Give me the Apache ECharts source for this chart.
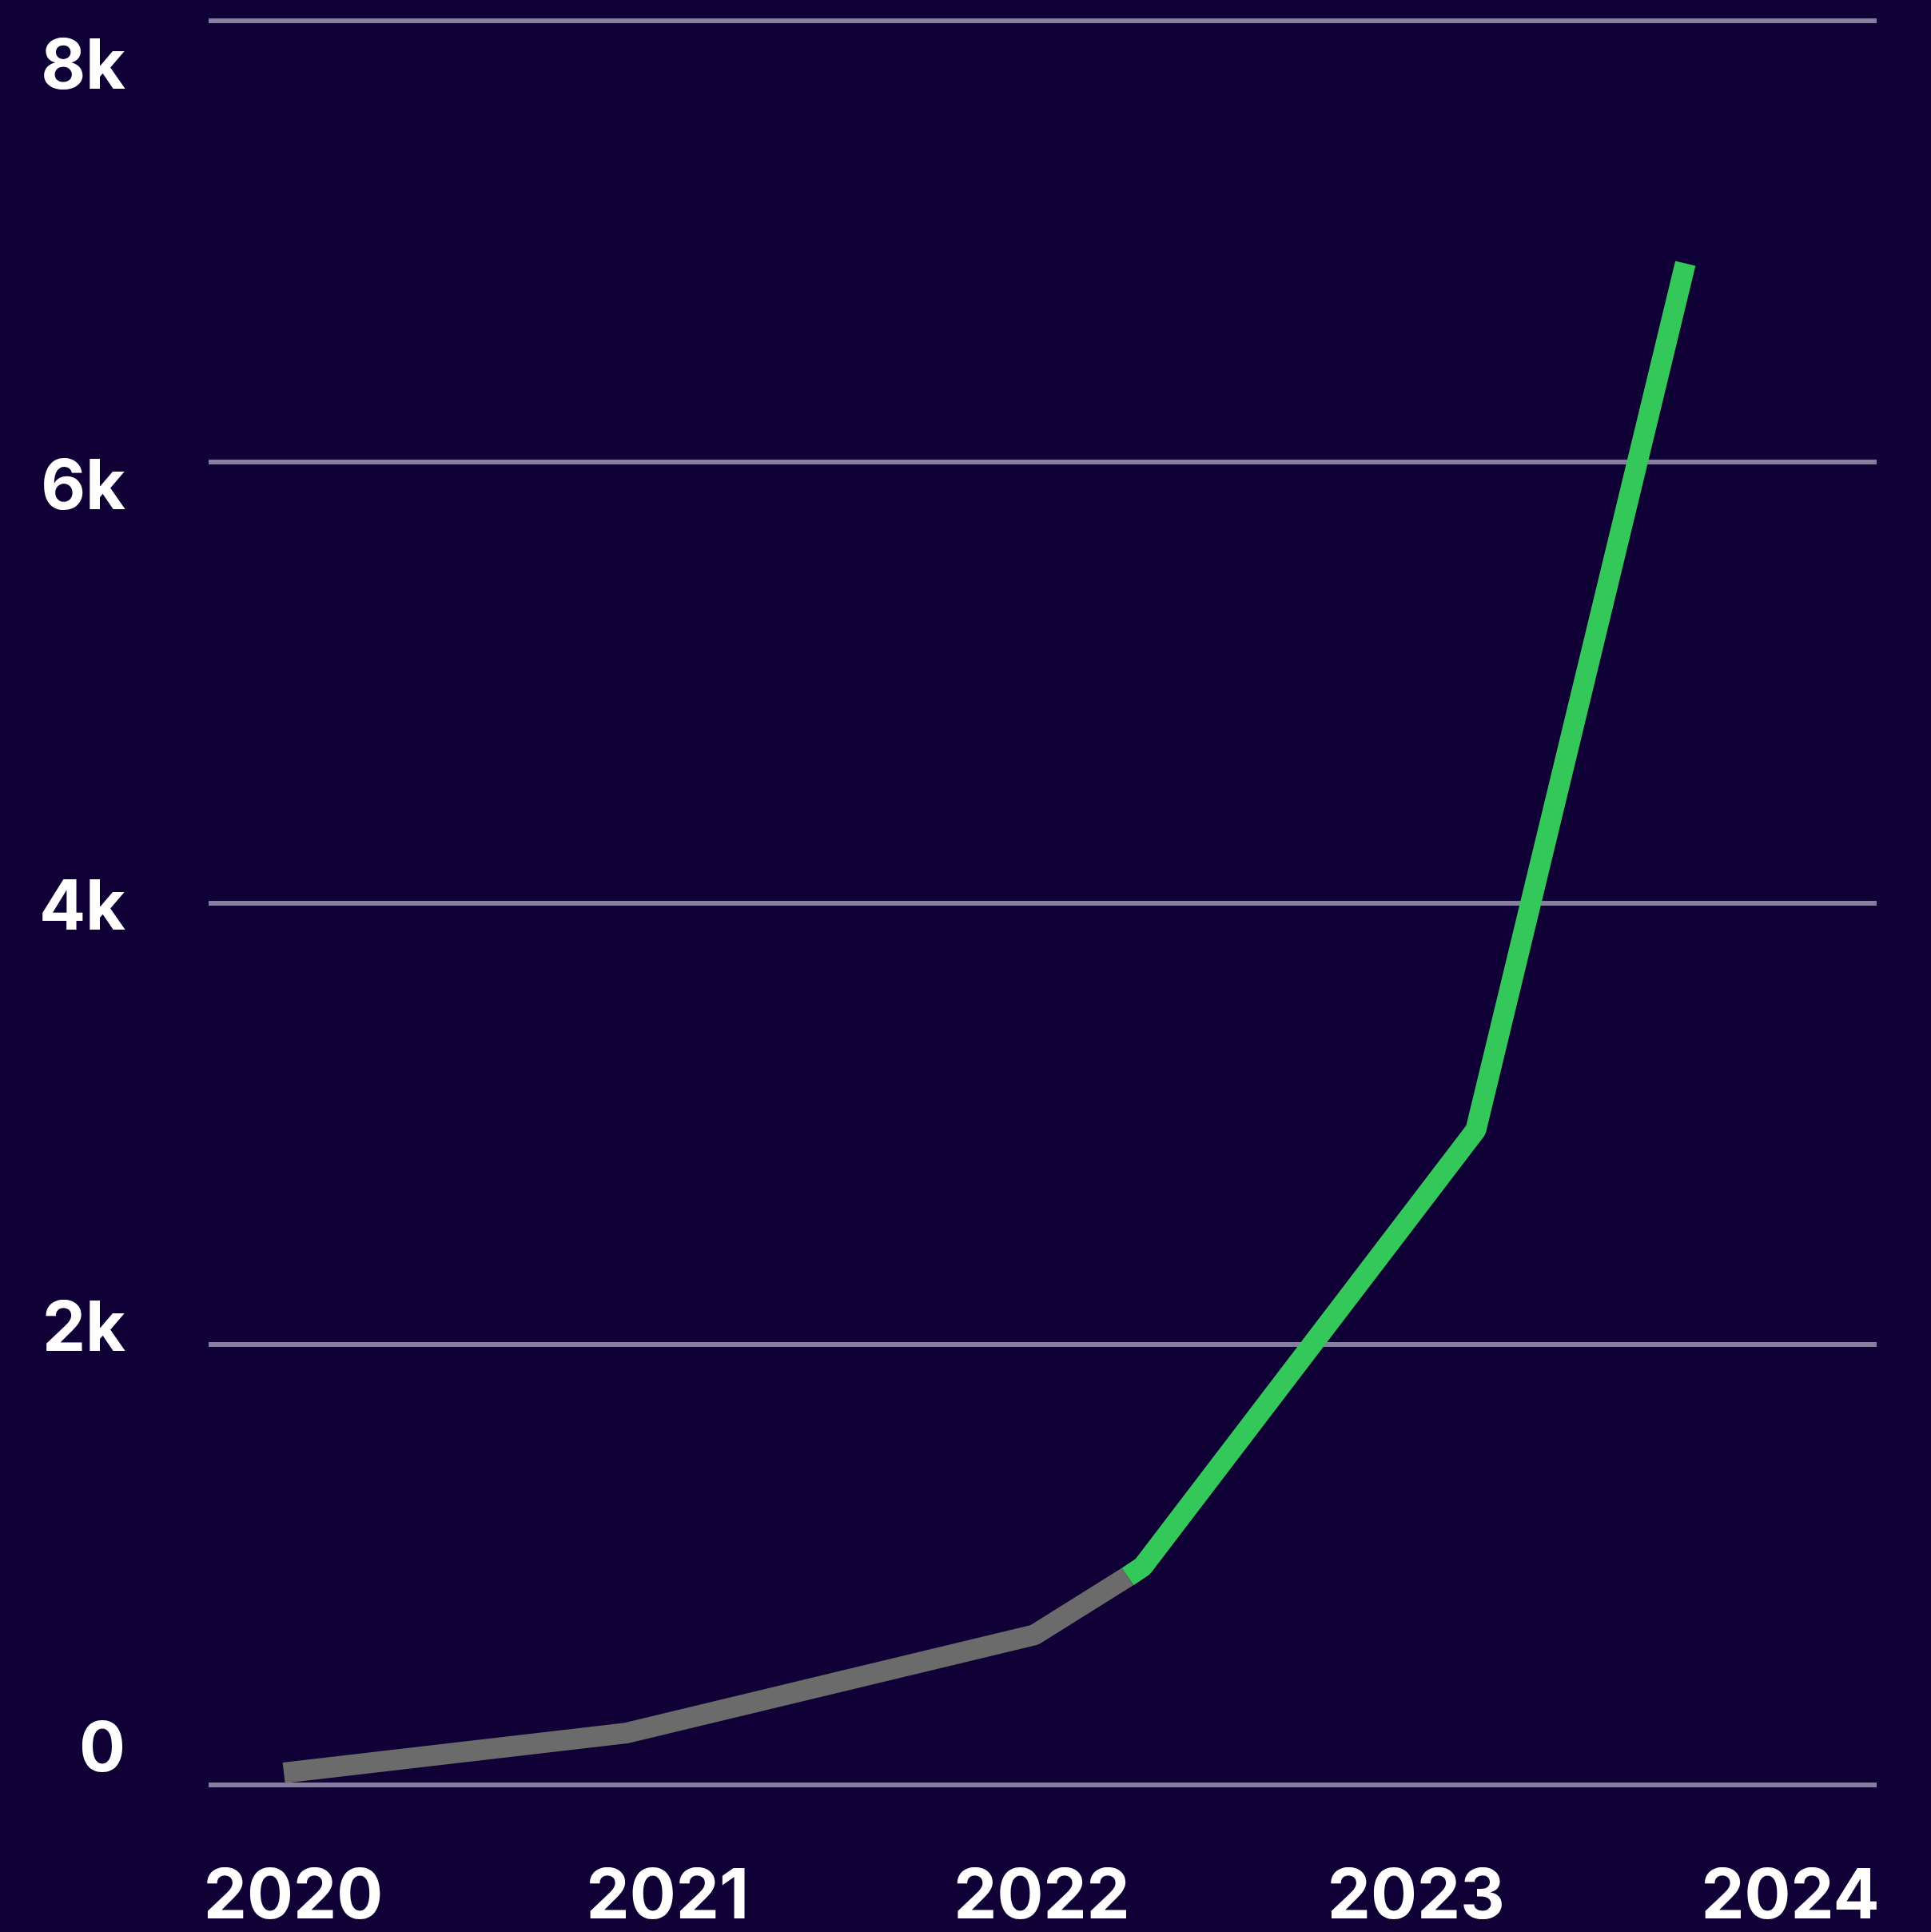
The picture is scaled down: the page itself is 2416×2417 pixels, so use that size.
<!DOCTYPE html>
<html>
    <head>
        <meta charset="utf-8">
        <title>Growth</title>
        <script src="https://cdn.jsdelivr.net/npm/echarts@6/dist/echarts.min.js"></script>
        <style>
            body { margin: 0; background: #0f0035; }
            #line { width: 2416px; height: 2417px; }
        </style>
    </head>
    <body>
        <div id="line"></div>
    </body>
    <script type="text/javascript">
        // years on the x axis (fractional = part way through the year)
        var years = [2020, 2021, 2022, 2023, 2024];
        var yTicks = [0, 2000, 4000, 6000, 8000];

        // grey part of the line
        var greyX = [2019.975, 2020.89, 2021.98, 2022.23];
        var greyY = [55, 235, 680, 945];
        // green part of the line
        var greenX = [2022.23, 2022.27, 2023.16, 2023.72];
        var greenY = [945, 990, 2970, 6900];

        function pairs(xs, ys) {
            var out = [];
            for (var i = 0; i < xs.length; i++) out.push([xs[i], ys[i]]);
            return out;
        }

        var labelFont = {
            color: '#ffffff',
            fontFamily: 'Inter',
            fontWeight: 'bold',
            fontSize: 86
        };

        var myChart = echarts.init(document.getElementById('line'));
        myChart.setOption({
            backgroundColor: '#0f0035',
            animation: false,
            grid: [
                // plot area
                { left: 261, right: 68, top: 26, bottom: 184 },
                // label area (labels sit off the grid lines)
                { left: 367, right: 176, top: 85, bottom: 224 }
            ],
            xAxis: [
                { gridIndex: 0, type: 'value', min: 2019.774, max: 2024.231, show: false },
                {
                    gridIndex: 1, type: 'value', min: years[0], max: years[years.length - 1], interval: 1,
                    axisLine: { show: false }, axisTick: { show: false }, splitLine: { show: false },
                    axisLabel: Object.assign({ margin: 184, verticalAlign: 'middle', formatter: function (v) { return String(v); } }, labelFont)
                }
            ],
            yAxis: [
                {
                    gridIndex: 0, type: 'value', min: yTicks[0], max: yTicks[yTicks.length - 1], interval: 2000,
                    axisLine: { show: false }, axisTick: { show: false }, axisLabel: { show: false },
                    splitLine: { lineStyle: { color: '#867e9e', width: 6 } }
                },
                {
                    gridIndex: 1, type: 'value', min: yTicks[0], max: yTicks[yTicks.length - 1], interval: 2000,
                    axisLine: { show: false }, axisTick: { show: false }, splitLine: { show: false },
                    axisLabel: Object.assign({
                        margin: 210, align: 'right', verticalAlign: 'middle',
                        formatter: function (v) { return v === 0 ? '0' : (v / 1000) + 'k'; }
                    }, labelFont)
                }
            ],
            series: [
                {
                    type: 'line', xAxisIndex: 0, yAxisIndex: 0,
                    data: pairs(greyX, greyY),
                    showSymbol: false,
                    lineStyle: { color: '#6b6b6b', width: 26, cap: 'butt', join: 'bevel' }
                },
                {
                    type: 'line', xAxisIndex: 0, yAxisIndex: 0,
                    data: pairs(greenX, greenY),
                    showSymbol: false,
                    lineStyle: { color: '#34c759', width: 26, cap: 'butt', join: 'bevel' }
                }
            ]
        });
    </script>
</html>
